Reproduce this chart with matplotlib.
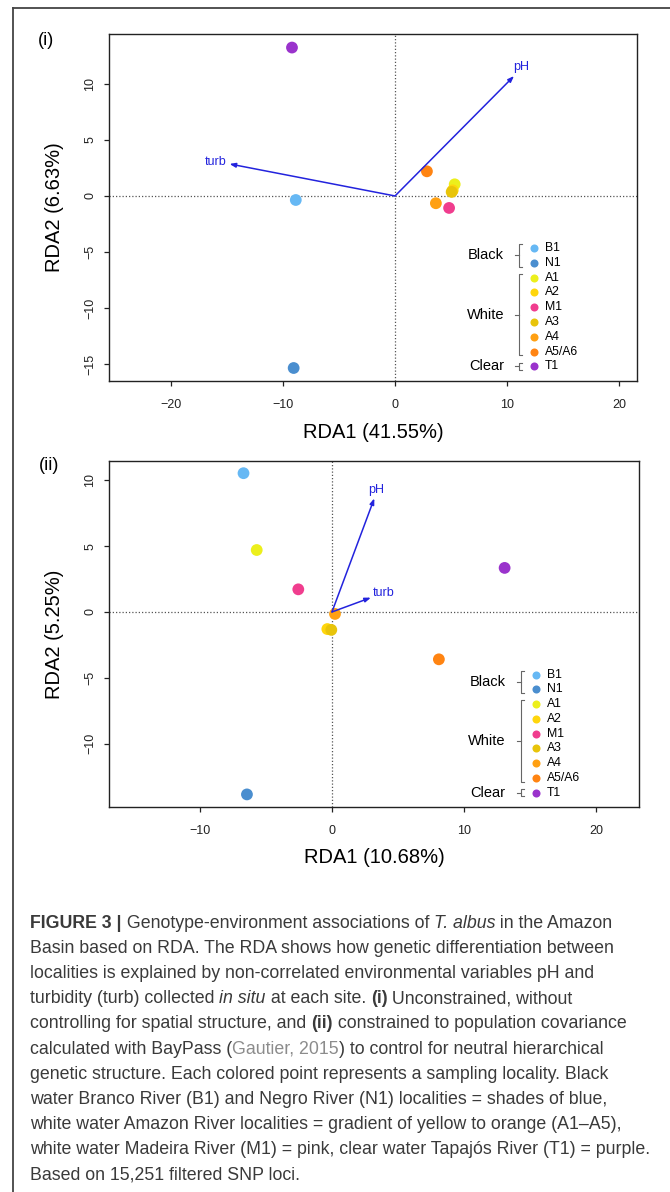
import matplotlib
matplotlib.use('Agg')
import matplotlib.pyplot as plt
from matplotlib.lines import Line2D

W, H = 670, 1192
plt.rcParams['font.family'] = ['Liberation Sans', 'DejaVu Sans']

# sampling localities and their colours
sites = ['B1', 'N1', 'A1', 'A2', 'M1', 'A3', 'A4', 'A5/A6', 'T1']
site_colors = ['#66b8f4', '#4a8ecf', '#ecef1c', '#ffd60c', '#f03d8e',
               '#e8c40a', '#ffa012', '#ff8412', '#9a33cc']
groups = ['Black', 'White', 'Clear']
group_members = [['B1', 'N1'], ['A1', 'A2', 'M1', 'A3', 'A4', 'A5/A6'], ['T1']]
env_vars = ['pH', 'turb']

# panel (i) - unconstrained
rda1_i = [-8.86, -9.05, 5.33, 5.15, 4.83, 5.06, 3.65, 2.85, -9.2]
rda2_i = [-0.36, -15.36, 1.04, 0.5, -1.07, 0.36, -0.65, 2.2, 13.25]
env_x_i = [10.63, -14.78]
env_y_i = [10.71, 2.86]
xlab_i = 'RDA1 (41.55%)'
ylab_i = 'RDA2 (6.63%)'
xticks_i = [-20, -10, 0, 10, 20]
yticks_i = [-15, -10, -5, 0, 5, 10]

# panel (ii) - constrained to population covariance
rda1_ii = [-6.7, -6.44, -5.7, -0.35, -2.55, -0.05, 0.23, 8.1, 13.08]
rda2_ii = [10.55, -13.87, 4.71, -1.3, 1.72, -1.36, -0.15, -3.6, 3.35]
env_x_ii = [3.21, 2.95]
env_y_ii = [8.64, 1.09]
xlab_ii = 'RDA1 (10.68%)'
ylab_ii = 'RDA2 (5.25%)'
xticks_ii = [-10, 0, 10, 20]
yticks_ii = [-10, -5, 0, 5, 10]

ARROW = '#2323dd'


def px_box(left, top, right, bottom):
    return [left / W, 1 - bottom / H, (right - left) / W, (bottom - top) / H]


def draw_legend(ax):
    mx, lx, row0, step = 0.805, 0.826, 0.383, 0.0426
    rows = {s: row0 - i * step for i, s in enumerate(sites)}
    for s, c in zip(sites, site_colors):
        ax.plot(mx, rows[s], 'o', ms=5.8, color=c, mec='none',
                transform=ax.transAxes, clip_on=False)
        ax.text(lx, rows[s], s, fontsize=8.8, va='center', ha='left',
                transform=ax.transAxes)
    bx = 0.777
    for g, members in zip(groups, group_members):
        top = rows[members[0]] + 0.25 * step
        bot = rows[members[-1]] - 0.25 * step
        mid = (top + bot) / 2
        ax.plot([bx + 0.006, bx, bx, bx + 0.006], [top, top, bot, bot],
                color='#666666', lw=0.8, transform=ax.transAxes, clip_on=False)
        ax.plot([bx, bx - 0.008], [mid, mid], color='#666666', lw=0.8,
                transform=ax.transAxes, clip_on=False)
        ax.text(0.748, mid, g, fontsize=10.5, ha='right', va='center',
                transform=ax.transAxes)


def draw_panel(ax, xs, ys, ex, ey, xlim, ylim, xticks, yticks, xlab, ylab, lab_off):
    ax.set_xlim(xlim)
    ax.set_ylim(ylim)
    ax.axhline(0, color='#555555', lw=0.9, ls=(0, (1, 1.6)), zorder=1)
    ax.axvline(0, color='#555555', lw=0.9, ls=(0, (1, 1.6)), zorder=1)
    ax.scatter(xs, ys, s=72, c=site_colors, edgecolors='none', zorder=3)
    for name, x, y in zip(env_vars, ex, ey):
        ax.annotate('', xy=(x, y), xytext=(0, 0),
                    arrowprops=dict(arrowstyle='-|>,head_length=0.35,head_width=0.13',
                                    color=ARROW, lw=1.1, shrinkA=0, shrinkB=0),
                    zorder=4)
        ax.annotate(name, xy=(x, y), xytext=lab_off[name], textcoords='offset points',
                    ha='center', va='center', color=ARROW, fontsize=9)
    ax.set_xticks(xticks)
    ax.set_yticks(yticks)
    ax.tick_params(direction='out', length=3.8, width=0.9, labelsize=9, colors='#222222')
    ax.tick_params(axis='x', pad=9)
    ax.tick_params(axis='y', pad=5.5, labelrotation=90)
    for lab in ax.get_yticklabels():
        lab.set_va('center')
    for sp in ax.spines.values():
        sp.set_linewidth(1.0)
        sp.set_color('#222222')
    ax.set_xlabel(xlab, fontsize=14.5, va='center')
    ax.set_ylabel(ylab, fontsize=14.5, va='center')
    draw_legend(ax)


fig = plt.figure(figsize=(W / 100, H / 100), dpi=100)

ax1 = fig.add_axes(px_box(109, 34, 637, 381))
draw_panel(ax1, rda1_i, rda2_i, env_x_i, env_y_i, (-25.54, 21.61), (-16.52, 14.46),
           xticks_i, yticks_i, xlab_i, ylab_i, {'pH': (5, 6.5), 'turb': (-10, 1.2)})
ax1.xaxis.set_label_coords(0.5, -51 / 347)
ax1.yaxis.set_label_coords(-54 / 528, 0.5)

ax2 = fig.add_axes(px_box(109, 460.7, 639, 807.3))
draw_panel(ax2, rda1_ii, rda2_ii, env_x_ii, env_y_ii, (-16.89, 23.26), (-14.85, 11.5),
           xticks_ii, yticks_ii, xlab_ii, ylab_ii, {'pH': (1.5, 6), 'turb': (9.5, 3.2)})
ax2.xaxis.set_label_coords(0.5, -50.4 / 346.6)
ax2.yaxis.set_label_coords(-54 / 530, 0.5)

fig.text(46.3 / W, 1 - 40.5 / H, '(i)', fontsize=13, ha='center', va='center')
fig.text(49 / W, 1 - 465 / H, '(ii)', fontsize=13, ha='center', va='center')

# outer frame of the figure panel
fig.add_artist(Line2D([13 / W, 13 / W], [1 - 8 / H, 0], color='#444444', lw=1.3))
fig.add_artist(Line2D([13 / W, 1], [1 - 8 / H, 1 - 8 / H], color='#444444', lw=1.3))

# caption
CAP_FAM = ['Liberation Sans Narrow', 'Liberation Sans', 'DejaVu Sans']
TXT = '#3a3a3a'
reg = dict(family=CAP_FAM, color=TXT)
bold = dict(family=CAP_FAM, color=TXT, weight='bold')
ital = dict(family=CAP_FAM, color=TXT, style='italic')
link = dict(family=CAP_FAM, color='#8c8c8c')

caption = [
    [('FIGURE 3 |', bold), (' Genotype-environment associations of ', reg),
     ('T. albus', ital), (' in the Amazon', reg)],
    [('Basin based on RDA. The RDA shows how genetic differentiation between', reg)],
    [('localities is explained by non-correlated environmental variables pH and', reg)],
    [('turbidity (turb) collected ', reg), ('in situ', ital), (' at each site. ', reg),
     ('(i)', bold), (' Unconstrained, without', reg)],
    [('controlling for spatial structure, and ', reg), ('(ii)', bold),
     (' constrained to population covariance', reg)],
    [('calculated with BayPass (', reg), ('Gautier, 2015', link),
     (') to control for neutral hierarchical', reg)],
    [('genetic structure. Each colored point represents a sampling locality. Black', reg)],
    [('water Branco River (B1) and Negro River (N1) localities = shades of blue,', reg)],
    [('white water Amazon River localities = gradient of yellow to orange (A1\u2013A5),', reg)],
    [('white water Madeira River (M1) = pink, clear water Tapaj\u00f3s River (T1) = purple.', reg)],
    [('Based on 15,251 filtered SNP loci.', reg)],
]

renderer = fig.canvas.get_renderer()


def run_width(txt, style, size):
    t = fig.text(0, 0, '.' + txt + '.', fontsize=size, **style)
    w1 = t.get_window_extent(renderer).width
    t.set_text('..')
    w2 = t.get_window_extent(renderer).width
    t.remove()
    return w1 - w2


base = 12.0
wline = sum(run_width(t, s, base) for t, s in caption[9])
cap_size = base * 624 / wline

for i, line in enumerate(caption):
    x = 30.0
    y = 927.7 + i * 25.16
    for txt, style in line:
        fig.text(x / W, 1 - y / H, txt, fontsize=cap_size, ha='left', va='baseline', **style)
        x += run_width(txt, style, cap_size)

fig.savefig('out.png', dpi=100)
